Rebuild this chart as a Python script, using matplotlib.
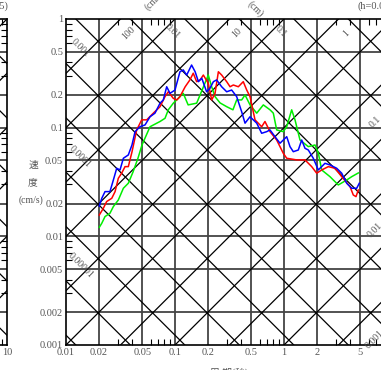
import numpy as np
import matplotlib
matplotlib.use("Agg")
import matplotlib.pyplot as plt
from matplotlib.ticker import FixedLocator, LogLocator, NullFormatter, FixedFormatter

plt.rcParams['font.family'] = ['Liberation Serif', 'Noto Sans CJK JP', 'DejaVu Sans']

# ---------------- data ----------------
x_ticks = [0.01, 0.02, 0.05, 0.1, 0.2, 0.5, 1, 2, 5, 10]
x_tick_labels = ["0.01", "0.02", "0.05", "0.1", "0.2", "0.5", "1", "2", "5", "10"]
y_ticks = [0.001, 0.002, 0.005, 0.01, 0.02, 0.05, 0.1, 0.2, 0.5, 1]
y_tick_labels = ["0.001", "0.002", "0.005", "0.01", "0.02", "0.05", "0.1", "0.2", "0.5", "1"]

disp_labels = ["0.001", "0.0001", "0.00001"]     # left edge  (cm)
disp_labels_top = ["0.01", "0.1"]                # top edge   (cm)
acc_labels_top = ["100", "10", "1"]              # top edge   (cm/s2)
acc_labels_right = ["0.1", "0.01", "0.001"]      # right edge (cm/s2)

blue_T = [0.0202, 0.0213, 0.0228, 0.0253, 0.0272, 0.0292, 0.0313, 0.0336, 0.0373, 0.0403,
          0.0430, 0.0477, 0.0531, 0.0590, 0.0655, 0.0729, 0.0781, 0.0839, 0.0900, 0.100,
          0.111, 0.119, 0.128, 0.142, 0.153, 0.164, 0.176, 0.195, 0.209, 0.225,
          0.241, 0.268, 0.298, 0.331, 0.368, 0.409, 0.439, 0.488, 0.562, 0.624,
          0.694, 0.744, 0.827, 0.919, 1.059, 1.135, 1.217, 1.353, 1.453, 1.558,
          1.671, 1.857, 2.064, 2.377, 2.642, 3.044, 3.383, 3.760, 4.180, 4.645, 4.907]
blue_V = [0.0190, 0.0224, 0.0258, 0.0258, 0.0330, 0.0423, 0.0408, 0.0523, 0.0561, 0.0693,
          0.0919, 0.102, 0.106, 0.126, 0.136, 0.168, 0.180, 0.238, 0.207, 0.222,
          0.327, 0.340, 0.305, 0.377, 0.327, 0.265, 0.285, 0.214, 0.230, 0.265,
          0.275, 0.238, 0.214, 0.222, 0.193, 0.140, 0.110, 0.126, 0.110, 0.0888,
          0.0919, 0.0953, 0.0826, 0.0719, 0.0826, 0.0669, 0.0601, 0.0623, 0.0770, 0.0646,
          0.0623, 0.0523, 0.0408, 0.0470, 0.0454, 0.0423, 0.0381, 0.0308, 0.0277, 0.0277, 0.0308]

red_T = [0.0202, 0.0220, 0.0236, 0.0263, 0.0282, 0.0302, 0.0324, 0.0348, 0.0373, 0.0403,
         0.0445, 0.0495, 0.0550, 0.0633, 0.0729, 0.0810, 0.0868, 0.0965, 0.104, 0.111,
         0.124, 0.137, 0.147, 0.158, 0.170, 0.182, 0.202, 0.217, 0.233, 0.250,
         0.268, 0.298, 0.320, 0.343, 0.381, 0.423, 0.455, 0.488, 0.542, 0.624,
         0.669, 0.744, 0.857, 0.985, 1.059, 1.308, 1.558, 1.795, 1.995, 2.218,
         2.550, 2.938, 3.383, 4.033, 4.323, 4.577, 4.806]
red_V = [0.0157, 0.0181, 0.0209, 0.0224, 0.0258, 0.0342, 0.0381, 0.0438, 0.0438, 0.0598,
         0.0953, 0.118, 0.118, 0.136, 0.156, 0.193, 0.214, 0.186, 0.180, 0.193,
         0.238, 0.275, 0.317, 0.265, 0.275, 0.305, 0.256, 0.180, 0.207, 0.327,
         0.305, 0.265, 0.238, 0.247, 0.238, 0.265, 0.222, 0.193, 0.118, 0.102,
         0.114, 0.0919, 0.0770, 0.0581, 0.0523, 0.0505, 0.0505, 0.0438, 0.0381, 0.0408,
         0.0438, 0.0423, 0.0354, 0.0287, 0.0240, 0.0232, 0.0267]

green_T = [0.0202, 0.0213, 0.0228, 0.0253, 0.0272, 0.0302, 0.0336, 0.0373, 0.0412, 0.0458,
           0.0498, 0.0590, 0.0729, 0.0810, 0.0868, 0.0965, 0.107, 0.119, 0.132, 0.158,
           0.188, 0.202, 0.217, 0.233, 0.259, 0.298, 0.340, 0.368, 0.409, 0.439,
           0.488, 0.562, 0.646, 0.744, 0.798, 0.857, 0.985, 1.059, 1.176, 1.262,
           1.402, 1.671, 1.924, 2.064, 2.218, 2.642, 3.149, 3.760, 4.180, 4.806]
green_V = [0.0121, 0.0132, 0.0152, 0.0163, 0.0188, 0.0216, 0.0277, 0.0308, 0.0391, 0.0526,
           0.0693, 0.102, 0.114, 0.122, 0.146, 0.168, 0.186, 0.207, 0.162, 0.168,
           0.256, 0.305, 0.238, 0.193, 0.169, 0.156, 0.146, 0.180, 0.180, 0.200,
           0.162, 0.136, 0.162, 0.146, 0.136, 0.0953, 0.0919, 0.102, 0.146, 0.118,
           0.0770, 0.0669, 0.0693, 0.0585, 0.0408, 0.0354, 0.0297, 0.0330, 0.0354, 0.0383]

# ---------------- figure ----------------
W, H = 381, 370
fig = plt.figure(figsize=(W / 100, H / 100), dpi=100)

ax_bottom = 1 - 345 / H
ax_height = 326 / H
ax_width = 327 / W
GRAY = '#555555'


def setup(ax):
    ax.set_xscale('log')
    ax.set_yscale('log')
    ax.set_xlim(0.01, 10)
    ax.set_ylim(0.001, 1)
    Tg = np.logspace(-3, 2, 200)
    # acceleration lines (slope +1)
    for k in range(-12, 10):
        ax.plot(Tg, Tg * 10 ** (k / 2), color='black', lw=0.9, zorder=2)
    # displacement lines (slope -1)
    for k in range(-10, 10):
        ax.plot(Tg, 10 ** (-1.91 + k / 2) / Tg, color='black', lw=0.9, zorder=2)
    for xv in x_ticks[1:-1]:
        ax.axvline(xv, color='#444444', lw=1.3, zorder=1)
    for yv in y_ticks[1:-1]:
        ax.axhline(yv, color='#444444', lw=1.3, zorder=1)
    ax.xaxis.set_major_locator(FixedLocator(x_ticks))
    ax.xaxis.set_major_formatter(FixedFormatter(x_tick_labels))
    ax.yaxis.set_major_locator(FixedLocator(y_ticks))
    ax.yaxis.set_major_formatter(FixedFormatter(y_tick_labels))
    ax.xaxis.set_minor_locator(LogLocator(base=10, subs=np.arange(2, 10)))
    ax.yaxis.set_minor_locator(LogLocator(base=10, subs=np.arange(2, 10)))
    ax.xaxis.set_minor_formatter(NullFormatter())
    ax.yaxis.set_minor_formatter(NullFormatter())
    ax.tick_params(which='both', direction='in', top=True, right=True,
                   labelsize=7.5, labelcolor=GRAY, color='black', pad=2)
    ax.tick_params(which='major', length=0)
    ax.tick_params(which='minor', length=4, width=0.8)
    for s in ax.spines.values():
        s.set_linewidth(1.2)
        s.set_color('black')


# partial neighbouring chart at the far left
ax0 = fig.add_axes([(7 - 327) / W, ax_bottom, ax_width, ax_height])
setup(ax0)
ax0.set_yticklabels([])
ax0.text(1.005, 1.025, "(h=0.05)", transform=ax0.transAxes, ha='right', va='bottom',
         fontsize=7.5, color=GRAY)

# main chart
ax = fig.add_axes([66 / W, ax_bottom, ax_width, ax_height])
setup(ax)
ax.plot(green_T, green_V, color='#00ee00', lw=1.1, zorder=3)
ax.plot(red_T, red_V, color='#ff0000', lw=1.1, zorder=4)
ax.plot(blue_T, blue_V, color='#0000ff', lw=1.1, zorder=5)

lab_kw = dict(ha='center', va='center', fontsize=7, color=GRAY,
              rotation_mode='anchor', zorder=6)
# displacement labels
for s in disp_labels:
    d = float(s)
    T0 = 0.0135
    ax.text(T0, 2 * np.pi * 1.15 * d / T0, s, rotation=-45, **lab_kw)
for s in disp_labels_top:
    d = float(s)
    V0 = 0.77
    ax.text(2 * np.pi * 1.15 * d / V0, V0, s, rotation=-45, **lab_kw)
# acceleration labels
for s in acc_labels_top:
    a = float(s)
    V0 = 0.74
    ax.text(V0 / (1.25 * a / (2 * np.pi)), V0, s, rotation=45, **lab_kw)
for s in acc_labels_right:
    a = float(s)
    T0 = 6.8
    ax.text(T0, a * T0 / (2 * np.pi) * 1.05, s, rotation=45, **lab_kw)

ax.text(0.275, 1.02, "(cm/s²)", transform=ax.transAxes, rotation=45, ha='center',
        va='bottom', fontsize=7, color=GRAY)
ax.text(0.58, 1.0, "(cm)", transform=ax.transAxes, rotation=-45, ha='center',
        va='bottom', fontsize=7, color=GRAY)
ax.text(0.89, 1.025, "(h=0.05)", transform=ax.transAxes, ha='left', va='bottom',
        fontsize=7.5, color=GRAY)

# axis titles
fig.text(33 / W, 1 - 165 / H, "速", ha='center', va='center', fontsize=7, color=GRAY)
fig.text(33 / W, 1 - 183 / H, "度", ha='center', va='center', fontsize=7, color=GRAY)
fig.text(31 / W, 1 - 200 / H, "(cm/s)", ha='center', va='center', fontsize=7, color=GRAY)
ax.text(0.5, -0.07, "周 期(秒)", transform=ax.transAxes, ha='center', va='top',
        fontsize=7, color=GRAY)

fig.savefig("out.png", dpi=100)
